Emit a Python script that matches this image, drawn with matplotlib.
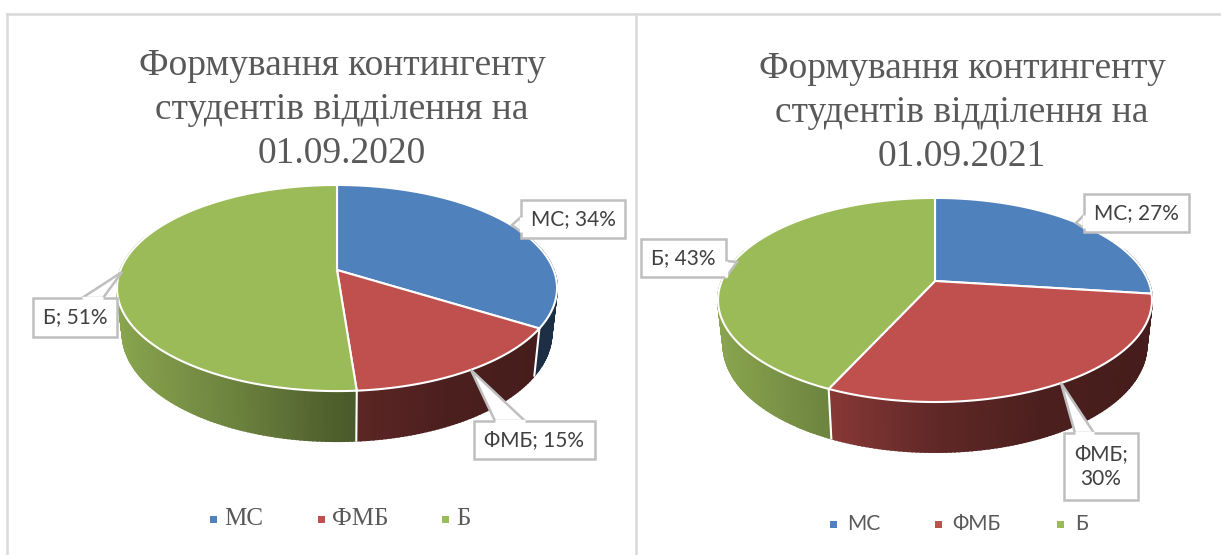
import numpy as np
import matplotlib
matplotlib.use("Agg")
import matplotlib.pyplot as plt
from matplotlib.patches import Polygon

categories = ["МС", "ФМБ", "Б"]
values_2020 = [33.9, 14.9, 51.2]
values_2021 = [27, 29.8, 43.2]
title_2020 = "Формування контингенту\nстудентів відділення на\n01.09.2020"
title_2021 = "Формування контингенту\nстудентів відділення на\n01.09.2021"

colors = ["#4F81BD", "#C0504D", "#9BBB59"]
TEXT_GREY = "#595959"
LABEL_GREY = "#404040"
BOX_GREY = "#BFBFBF"
FRAME_GREY = "#D9D9D9"


def shade(color, x_frac):
    # walls get darker from left to right
    m = np.interp(x_frac, [0, 0.26, 0.5, 0.75, 1], [0.88, 0.70, 0.50, 0.39, 0.36])
    return tuple(c * m for c in matplotlib.colors.to_rgb(color))


def rim(t, cx, cy, a, b, k):
    # perspective projection of a circle, t clockwise from the top
    u, v = np.sin(t), np.cos(t)
    d = 1 + k * v
    return cx + a * u / d, cy - b * v / d, v


def wall(t, cx, cy, a, b, k):
    x, y, v = rim(t, cx, cy, a, b, k)
    return cx + (x - cx) * 0.975, y + 44 - 6 * v


def draw_pie(ax, values, cx, cy, a, b, k):
    total = sum(values)
    edges = np.radians(np.concatenate([[0], np.cumsum(values)]) / total * 360)
    left, right = cx - a * 1.02, cx + a * 1.02

    # side wall, thin strips for the gradient
    for i, color in enumerate(colors):
        t0, t1 = max(edges[i], np.radians(70)), min(edges[i + 1], np.radians(290))
        if t1 <= t0:
            continue
        ts = np.linspace(t0, t1, max(int((t1 - t0) * 60), 2))
        for s0, s1 in zip(ts[:-1], ts[1:]):
            x0, y0, _ = rim(s0, cx, cy, a, b, k)
            x1, y1, _ = rim(s1, cx, cy, a, b, k)
            x2, y2 = wall(s1, cx, cy, a, b, k)
            x3, y3 = wall(s0, cx, cy, a, b, k)
            c = shade(color, ((x0 + x1) / 2 - left) / (right - left))
            ax.add_patch(Polygon([(x0, y0), (x1, y1), (x2, y2), (x3, y3)],
                                 facecolor=c, edgecolor=c, lw=1.4, zorder=2))

    # white lines on the wall where slices meet
    for t in edges[1:-1]:
        if np.radians(100) < t < np.radians(260):
            x0, y0, _ = rim(t, cx, cy, a, b, k)
            x1, y1 = wall(t, cx, cy, a, b, k)
            ax.plot([x0, x1], [y0, y1], color="white", lw=1.5, zorder=3)

    # top face
    for i, color in enumerate(colors):
        ts = np.linspace(edges[i], edges[i + 1], 200)
        x, y, _ = rim(ts, cx, cy, a, b, k)
        pts = np.column_stack([np.r_[cx, x], np.r_[cy, y]])
        ax.add_patch(Polygon(pts, facecolor=color, edgecolor="white", lw=1.5,
                             joinstyle="round", zorder=4))


def callout(ax, box, wedge, lines):
    # box = (x0, y0, x1, y1), wedge = three points: base, tip, base
    x0, y0, x1, y1 = box
    ax.add_patch(Polygon(wedge, facecolor="white", edgecolor=BOX_GREY, lw=1.8, zorder=5))
    ax.add_patch(Polygon([(x0, y0), (x1, y0), (x1, y1), (x0, y1)], facecolor="white",
                         edgecolor=BOX_GREY, lw=1.8, zorder=5))
    # hide the box side under the wedge mouth
    ax.plot([wedge[0][0], wedge[2][0]], [wedge[0][1], wedge[2][1]],
            color="white", lw=2.4, zorder=6, solid_capstyle="butt")
    ax.text((x0 + x1) / 2, (y0 + y1) / 2, lines, ha="center", va="center",
            family="Lato", fontsize=15, color=LABEL_GREY, zorder=7, linespacing=1.35)


def legend(ax, y, marker_xs, text_xs, family, fontsize):
    for name, color, mx, tx in zip(categories, colors, marker_xs, text_xs):
        ax.add_patch(Polygon([(mx, y - 3.5), (mx + 7, y - 3.5), (mx + 7, y + 3.5), (mx, y + 3.5)],
                             facecolor=color, edgecolor="none", zorder=3))
        ax.text(tx, y, name, ha="left", va="center", family=family,
                fontsize=fontsize, color=TEXT_GREY)


def pct(i, values):
    return f"{categories[i]}; {round(values[i] / sum(values) * 100)}%"


fig = plt.figure(figsize=(12.21, 5.55), dpi=100)
ax = fig.add_axes([0, 0, 1, 1])
ax.set_xlim(0, 1221)
ax.set_ylim(555, 0)
ax.axis("off")

# chart frames
ax.plot([7, 7], [555, 14], color=FRAME_GREY, lw=1.8)
ax.plot([7, 1221], [14, 14], color=FRAME_GREY, lw=1.8)
ax.plot([636, 636], [14, 555], color=FRAME_GREY, lw=1.8)

ax.text(342, 110, title_2020, ha="center", va="center", family="Liberation Serif",
        fontsize=27, color=TEXT_GREY, linespacing=1.36)
ax.text(962, 113, title_2021, ha="center", va="center", family="Liberation Serif",
        fontsize=27, color=TEXT_GREY, linespacing=1.36)

draw_pie(ax, values_2020, 337, 270, 216.6, 99.9, 0.175)
draw_pie(ax, values_2021, 935, 281, 213.2, 98.5, 0.186)

callout(ax, (521, 200, 625, 238), [(521, 217), (512, 225), (521, 232)], pct(0, values_2020))
callout(ax, (474, 421, 595, 459), [(495, 421), (471, 370), (525, 421)], pct(1, values_2020))
callout(ax, (33, 298, 117, 337), [(82, 298), (122, 272), (103, 298)], pct(2, values_2020))

callout(ax, (1084, 194, 1189, 232), [(1084, 215), (1076, 223), (1084, 228)], pct(0, values_2021))
callout(ax, (1064, 433, 1138, 500), [(1075, 433), (1061, 383), (1094, 433)],
        pct(1, values_2021).replace("; ", ";\n"))
callout(ax, (641, 239, 726, 277), [(726, 261), (737, 262), (726, 277)], pct(2, values_2021))

legend(ax, 519, [210, 318, 442], [224, 332, 456], "Liberation Serif", 18)
legend(ax, 524, [830, 935, 1057], [847, 952, 1075], "Lato", 15)

plt.savefig("out.png", dpi=100)
